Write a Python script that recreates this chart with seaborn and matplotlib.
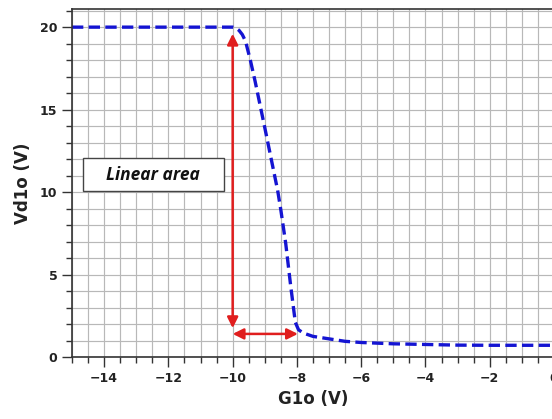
import matplotlib
matplotlib.use("Agg")
import matplotlib.pyplot as plt
import pandas as pd
import seaborn as sns
from matplotlib.patches import Rectangle
from matplotlib.ticker import MultipleLocator

# transfer curve
g1o = [-15.0, -10.3, -10.0, -9.9, -9.8, -9.7, -9.6, -9.45, -9.3, -9.15, -9.0, -8.8,
       -8.6, -8.5, -8.35, -8.2, -8.05, -7.95, -7.8, -7.5, -7.0, -6.5, -6.0,
       -5.0, -4.0, -3.0, -2.0, -1.0, 0.0]
vd1o = [20.0, 20.0, 20.0, 19.95, 19.8, 19.55, 19.15, 18.0, 16.7, 15.3, 13.9, 12.0,
        10.1, 8.9, 6.9, 4.4, 2.1, 1.65, 1.45, 1.25, 1.1, 0.95, 0.88,
        0.8, 0.76, 0.72, 0.71, 0.71, 0.71]

x_ticks = [-14, -12, -10, -8, -6, -4, -2, 0]
y_ticks = [0, 5, 10, 15, 20]

df = pd.DataFrame({"G1o": g1o, "Vd1o": vd1o})

sns.set_theme(style="white")
plt.rcParams["font.family"] = ["DejaVu Sans"]

fig = plt.figure(figsize=(5.52, 4.19), dpi=100)
ax = fig.add_axes([72 / 552, 1 - 357 / 419, (554 - 72) / 552, (357 - 9) / 419])

sns.lineplot(x="G1o", y="Vd1o", data=df, ax=ax, color="#1414d2", linewidth=2.4)
ax.lines[0].set_dashes((3.4, 1.6))

ax.set_xlim(-15, 0)
ax.set_ylim(0, 21.1)
ax.set_xticks(x_ticks)
ax.set_yticks(y_ticks)
ax.xaxis.set_minor_locator(MultipleLocator(0.5))
ax.yaxis.set_minor_locator(MultipleLocator(1))
ax.set_xticklabels(["\u2212" + str(abs(t)) if t < 0 else str(t) for t in x_ticks])
ax.grid(True, which="both", color="#b8b8b8", linewidth=0.85)
ax.set_axisbelow(True)

ax.tick_params(which="major", direction="out", length=7, width=1, color="#333333",
               labelsize=9, labelcolor="#222222", bottom=True, left=True)
ax.tick_params(which="minor", direction="out", length=4.5, width=1, color="#333333",
               bottom=True, left=True)
for lab in ax.get_xticklabels() + ax.get_yticklabels():
    lab.set_fontweight("bold")
for s in ax.spines.values():
    s.set_color("#333333")
    s.set_linewidth(1.2)

ax.set_xlabel("G1o (V)", fontsize=12, fontweight="bold", color="#222222", labelpad=4)
ax.set_ylabel("Vd1o (V)", fontsize=12, fontweight="bold", color="#222222", labelpad=6)

red = "#e01e1e"
ax.annotate("", xy=(-10, 19.6), xytext=(-10, 1.75),
            arrowprops=dict(arrowstyle="<|-|>", color=red, lw=1.8,
                            mutation_scale=16, shrinkA=0, shrinkB=0))
ax.annotate("", xy=(-7.97, 1.4), xytext=(-10, 1.4),
            arrowprops=dict(arrowstyle="<|-|>", color=red, lw=1.8,
                            mutation_scale=16, shrinkA=0, shrinkB=0))

# label box
ax.add_patch(Rectangle((-14.66, 10.06), 4.38, 2.0, facecolor="white",
                       edgecolor="#444444", linewidth=1, zorder=4))
ax.text(-12.47, 11.06, "Linear area", fontsize=12.5, fontweight="bold", style="italic",
        family=["Open Sans", "DejaVu Sans"], color="#111111", ha="center", va="center",
        zorder=5)

fig.savefig("out.png", dpi=100)
